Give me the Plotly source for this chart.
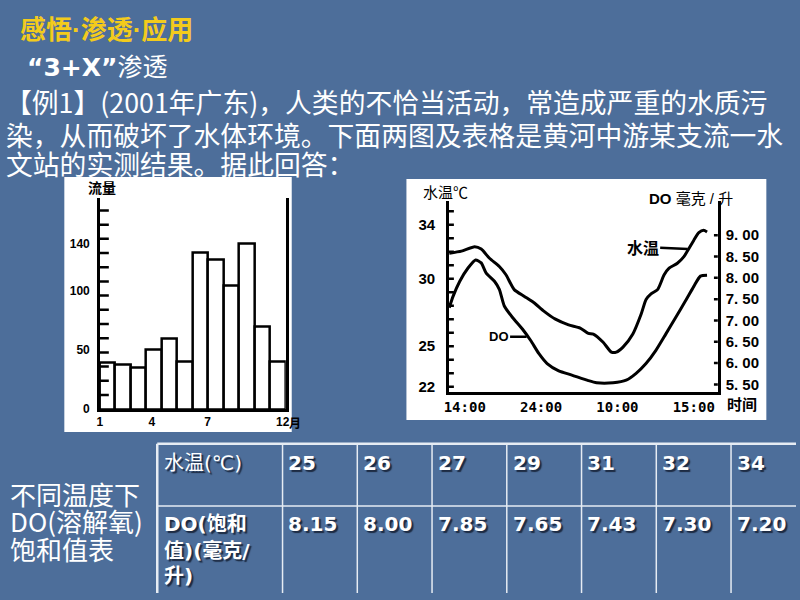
import plotly.graph_objects as go

W, H = 800, 600
def px(x): return x / W
def py(y): return 1 - y / H

BG = "#4d6e9a"
CJK = "Noto Sans CJK SC"

# ---------------- data ----------------
months = list(range(1, 13))
flow = [39, 38, 35, 50, 60, 40, 132, 126, 104, 140, 70, 40]
flow_tick_vals = [0, 50, 100, 140]
flow_minor_ticks = [12, 24, 36, 48, 60, 72, 84, 96, 108, 120, 132, 144, 156, 168]
month_tick_text = ["1", "4", "7", "12"]
month_tick_pos = [0.0, 3.35, 6.95, 11.8]

temp_t = [-2.03, -0.43, 1.30, 2.16, 3.24, 4.53, 5.40, 6.48, 7.77, 9.07, 10.36, 11.88, 13.60,
          15.12, 16.19, 16.84, 18.13, 19.21, 19.86, 20.73, 22.02, 23.10, 23.75, 24.40, 25.26,
          26.12, 26.77, 27.85, 28.71, 29.37, 30.01, 30.66, 31.30, 31.74]
temp_v = [31.88, 32.04, 32.36, 32.19, 31.51, 30.90, 30.29, 29.19, 28.70, 28.22, 27.60, 27.00, 26.58,
          26.34, 25.95, 25.90, 25.29, 24.56, 24.56, 24.93, 25.90, 27.36, 28.46, 28.88, 29.19,
          30.29, 30.78, 31.14, 31.63, 32.24, 32.85, 33.41, 33.58, 33.46]

do_t = [-2.03, -1.52, -0.65, 0.43, 1.42, 2.16, 2.81, 3.89, 4.53, 5.18, 6.26, 7.55, 8.64, 9.72,
        10.79, 12.31, 14.03, 16.19, 17.27, 19.43, 21.15, 22.45, 23.74, 25.04, 26.33, 27.63,
        28.92, 30.01, 30.87, 31.74]
do_v = [7.30, 7.57, 7.92, 8.23, 8.42, 8.35, 8.11, 7.92, 7.73, 7.34, 7.07, 6.80, 6.53, 6.22,
        5.99, 5.82, 5.72, 5.59, 5.54, 5.54, 5.60, 5.76, 5.99, 6.30, 6.68, 7.07,
        7.46, 7.80, 8.04, 8.06]

time_tick_pos = [0, 10, 20, 30]
time_tick_text = ["14:00", "24:00", "10:00", "15:00"]
temp_tick_vals = [22, 25, 30, 34]
temp_minor_ticks = [22, 23, 24, 25, 26, 27, 28, 29, 30, 31, 32, 33, 34, 35]
do_tick_vals = [5.5, 6.0, 6.5, 7.0, 7.5, 8.0, 8.5, 9.0]
do_tick_text = ["5. 50", "6. 00", "6. 50", "7. 00", "7. 50", "8. 00", "8. 50", "9. 00"]

table_temps = [25, 26, 27, 29, 31, 32, 34]
table_do = ["8.15", "8.00", "7.85", "7.65", "7.43", "7.30", "7.20"]

# ---------------- axes geometry ----------------
BAR_XDOM = (96, 284)
BAR_YDOM = (414, 200)
LINE_XDOM = (449, 721)
LINE_YDOM = (397, 203)
BAR_XRANGE = [0, 12]
BAR_YRANGE = [0, 178.8]
TIME_RANGE = [-2.07, 33.16]
TEMP_RANGE = [21.58, 35.78]
DO_RANGE = [5.314, 9.81]

fig = go.Figure()

fig.add_trace(go.Bar(
    x=[m - 0.5 for m in months], y=flow, width=1,
    marker=dict(color="white", line=dict(color="black", width=2.5)),
    xaxis="x", yaxis="y", hoverinfo="skip"))

fig.add_trace(go.Scatter(
    x=temp_t, y=temp_v, mode="lines",
    line=dict(color="black", width=3, shape="spline", smoothing=0.6),
    xaxis="x2", yaxis="y2", hoverinfo="skip"))

fig.add_trace(go.Scatter(
    x=do_t, y=do_v, mode="lines",
    line=dict(color="black", width=3, shape="spline", smoothing=0.6),
    xaxis="x2", yaxis="y3", hoverinfo="skip"))

TICK_COLOR = "black"

# axis tick marks (length in pixels, converted with the axis scale)
def tick_trace(vals, x_start, length_px, xdom, xrange, xaxis, yaxis):
    units_per_px = (xrange[1] - xrange[0]) / (xdom[1] - xdom[0])
    x_end = x_start + length_px * units_per_px
    xs, ys = [], []
    for v in vals:
        xs += [x_start, x_end, None]
        ys += [v, v, None]
    return go.Scatter(x=xs, y=ys, mode="lines", line=dict(color=TICK_COLOR, width=2.5),
                      xaxis=xaxis, yaxis=yaxis, hoverinfo="skip", showlegend=False,
                      cliponaxis=False)

fig.add_trace(tick_trace(flow_minor_ticks, BAR_XRANGE[0], 9, BAR_XDOM, BAR_XRANGE, "x", "y"))
fig.add_trace(tick_trace(temp_minor_ticks, TIME_RANGE[0], 5, LINE_XDOM, TIME_RANGE, "x2", "y2"))
fig.add_trace(tick_trace(do_tick_vals, TIME_RANGE[1], -4, LINE_XDOM, TIME_RANGE, "x2", "y3"))

bar_font = dict(family="Liberation Sans", size=12, color="black", weight="bold")
line_font = dict(family="Liberation Sans", size=15, color="black", weight="bold")

fig.update_layout(
    width=W, height=H, margin=dict(l=0, r=0, t=0, b=0),
    paper_bgcolor=BG, plot_bgcolor="rgba(0,0,0,0)", showlegend=False, bargap=0,
    xaxis=dict(domain=[px(BAR_XDOM[0]), px(BAR_XDOM[1])], range=BAR_XRANGE, anchor="y",
               showline=True, linecolor="black", linewidth=2.5, showgrid=False, zeroline=False,
               tickmode="array", tickvals=month_tick_pos, ticktext=month_tick_text,
               ticks="", tickfont=bar_font),
    yaxis=dict(domain=[py(BAR_YDOM[0]), py(BAR_YDOM[1])], range=BAR_YRANGE, anchor="x",
               showline=True, mirror=True, linecolor="black", linewidth=2.5,
               showgrid=False, zeroline=False,
               tickmode="array", tickvals=flow_tick_vals, ticks="",
               tickfont=bar_font, ticklabelstandoff=5),
    xaxis2=dict(domain=[px(LINE_XDOM[0]), px(LINE_XDOM[1])], range=TIME_RANGE, anchor="y2",
                showline=True, linecolor="black", linewidth=2.5, showgrid=False, zeroline=False,
                tickmode="array", tickvals=time_tick_pos, ticktext=time_tick_text, ticks="",
                tickfont=dict(family="DejaVu Sans Mono", size=14, color="black", weight="bold")),
    yaxis2=dict(domain=[py(LINE_YDOM[0]), py(LINE_YDOM[1])], range=TEMP_RANGE, anchor="x2",
                showline=True, linecolor="black", linewidth=2.5, showgrid=False, zeroline=False,
                tickmode="array", tickvals=temp_tick_vals, ticks="",
                tickfont=line_font, ticklabelstandoff=8),
    yaxis3=dict(overlaying="y2", side="right", range=DO_RANGE, anchor="x2",
                showline=True, linecolor="black", linewidth=2.5, showgrid=False, zeroline=False,
                tickmode="array", tickvals=do_tick_vals, ticktext=do_tick_text, ticks="",
                tickfont=line_font, ticklabelstandoff=2),
)

shapes = []
shapes.append(dict(type="rect", xref="paper", yref="paper", x0=px(60), x1=px(290),
                   y0=py(437), y1=py(179), fillcolor="white", line=dict(width=0), layer="below"))
shapes.append(dict(type="rect", xref="paper", yref="paper", x0=px(406), x1=px(770),
                   y0=py(425), y1=py(181), fillcolor="white", line=dict(width=0), layer="below"))

TL = "#e6ecf3"
tab_left, tab_top, tab_mid, tab_bot = 154, 449, 512, 600
first_col_right = 280.7
col_w = 75.6
for yy in (tab_top, tab_mid):
    shapes.append(dict(type="line", xref="paper", yref="paper", x0=px(tab_left), x1=1,
                       y0=py(yy), y1=py(yy), line=dict(color=TL, width=2.5 if yy == tab_top else 1.5)))
vlines = [tab_left] + [first_col_right + i * col_w for i in range(len(table_temps))]
for i, xx in enumerate(vlines):
    shapes.append(dict(type="line", xref="paper", yref="paper", x0=px(xx), x1=px(xx),
                       y0=py(tab_bot), y1=py(tab_top),
                       line=dict(color=TL, width=2.5 if i == 0 else 1.5)))
fig.update_layout(shapes=shapes)

anns = []
def ann(text, x, y, size, color="white", family=CJK, xanchor="left", weight="normal", shadow=None):
    f = dict(family=family, size=size, color=color, weight=weight)
    if shadow:
        f["shadow"] = shadow
    anns.append(dict(text=text, x=px(x), y=py(y), xref="paper", yref="paper",
                     xanchor=xanchor, yanchor="middle", showarrow=False, font=f))

ann("感悟·渗透·应用", 13, 30, 26, color="#f3cb1c", weight="bold", family="Liberation Sans, " + CJK)
ann("<b>“3+X”</b>渗透", 20, 68, 25, family="DejaVu Sans, " + CJK)
ann("【例1】(2001年广东)，人类的不恰当活动，常造成严重的水质污", -2, 103, 26.8)
ann("染，从而破坏了水体环境。下面两图及表格是黄河中游某支流一水", -1, 136, 26.8)
ann("文站的实测结果。据此回答：", -1, 165, 26.8)

ann("流量", 82, 189, 14, color="black", weight="bold")
ann("月", 285, 427, 12, color="black", weight="bold")

ann("水温℃", 421, 194, 15, color="black")
ann("<b>DO</b> 毫克 / 升", 649, 201, 15, color="black", family="Liberation Sans, " + CJK)
ann("时间", 728, 408, 15, color="black", weight="bold")

ann("不同温度下", 3, 499, 26)
ann("DO(溶解氧)", 3, 527, 26)
ann("饱和值表", 3, 555, 26)
shadow = "2px 2px 1px rgba(20,30,50,0.85)"
ann("水温(℃)", 159, 468, 20, family="DejaVu Sans, " + CJK, shadow=shadow)
ann("<b>DO(饱和</b>", 159, 530, 20, family="DejaVu Sans, " + CJK, shadow=shadow)
ann("<b>值)(毫克/</b>", 159, 557, 20, family="DejaVu Sans, " + CJK, shadow=shadow)
ann("<b>升)</b>", 159, 583, 20, family="DejaVu Sans, " + CJK, shadow=shadow)
for i, (t, d) in enumerate(zip(table_temps, table_do)):
    x0 = first_col_right + i * col_w + 4
    ann(str(t), x0, 468, 20, family="DejaVu Sans", weight="bold", shadow=shadow)
    ann(d, x0, 530, 20, family="DejaVu Sans", weight="bold", shadow=shadow)

anns.append(dict(text="水温", x=29.2, y=32.2, xref="x2", yref="y2", showarrow=True,
                 arrowhead=0, arrowwidth=2.5, arrowcolor="black", ax=-45, ay=-2,
                 font=dict(family=CJK, size=16, color="black", weight="bold")))
anns.append(dict(text="DO", x=8.1, y=6.62, xref="x2", yref="y3", showarrow=True,
                 arrowhead=0, arrowwidth=2.5, arrowcolor="black", ax=-28, ay=0,
                 font=dict(family="Liberation Sans", size=13, color="black", weight="bold")))

fig.update_layout(annotations=anns)
fig.write_html("out.html")
